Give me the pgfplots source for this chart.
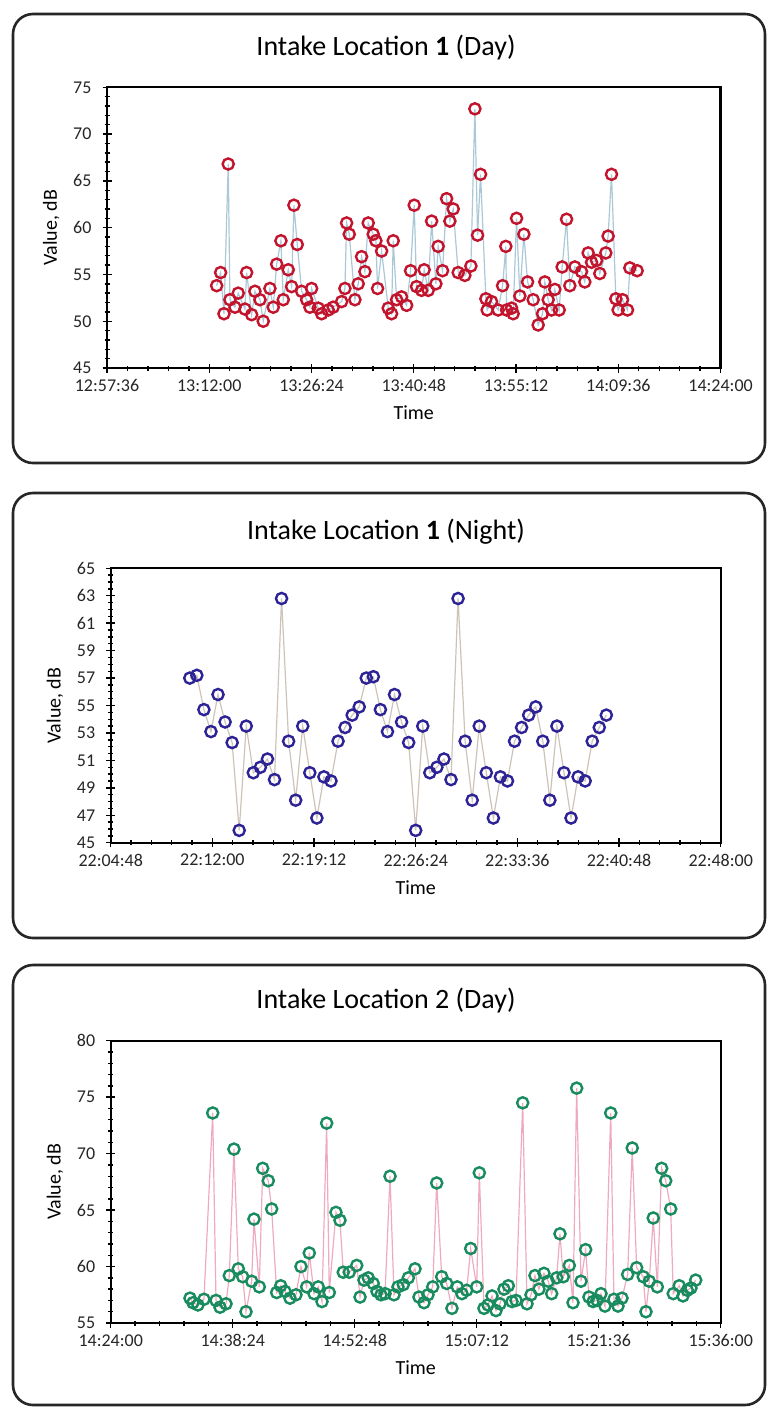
\documentclass[border=0pt]{standalone}
\usepackage{fontspec}
\setmainfont{Carlito}
\usepackage{pgfplots}
\pgfplotsset{compat=1.18}

\definecolor{redmk}{RGB}{195,20,45}
\definecolor{redln}{RGB}{170,200,215}
\definecolor{bluemk}{RGB}{45,35,150}
\definecolor{blueln}{RGB}{205,195,185}
\definecolor{greenmk}{RGB}{25,140,95}
\definecolor{greenln}{RGB}{238,170,190}

\pgfplotsset{
  panel/.style={
    scale only axis, anchor=south west,
    axis line style={line width=1.1pt},
    tick align=center, tick pos=left,
    major tick length=4.5pt, minor tick length=2.5pt,
    every tick/.style={black, line width=0.7pt},
    tick label style={font=\fontsize{9}{10}\selectfont, text=black!85},
    yticklabel style={xshift=-2pt},
    /pgf/number format/assume math mode=true,
    xlabel={Time}, ylabel={Value, dB},
    label style={font=\fontsize{10}{12}\selectfont},
    minor x tick num=4, minor y tick num=4,
    clip=false,
  },
  series/.style 2 args={
    draw=#2, line width=0.6pt, mark=o,
    mark size=2.8pt,
    mark options={draw=#1, line width=1.2pt, solid},
  },
}

\begin{document}
\begin{tikzpicture}[x=0.5pt,y=-0.5pt]
\useasboundingbox (0,0) rectangle (767,1409);

% panel frames
\draw[line width=1.3pt, black!85, rounded corners=10pt] (13,14) rectangle (765,463);
\draw[line width=1.3pt, black!85, rounded corners=10pt] (13,493) rectangle (765,938);
\draw[line width=1.3pt, black!85, rounded corners=10pt] (13,965) rectangle (765,1405);

\node[font=\fontsize{14}{16}\selectfont] at (386,48) {Intake Location \textbf{1} (Day)};
\node[font=\fontsize{14}{16}\selectfont] at (386,532) {Intake Location \textbf{1} (Night)};
\node[font=\fontsize{14}{16}\selectfont] at (386,1001) {Intake Location 2 (Day)};

\coordinate (p1) at (107,368);
\coordinate (p2) at (110.7,842.7);
\coordinate (p3) at (110.7,1323);

% ---- Intake Location 1 (Day)
\begin{axis}[panel, at={(p1)}, width=306.8pt, height=140.35pt,
    xmin=0, xmax=86.4, ymin=45, ymax=75,
    xtick={0,14.4,28.8,43.2,57.6,72,86.4},
    xticklabels={12:57:36,13:12:00,13:26:24,13:40:48,13:55:12,14:09:36,14:24:00},
    ytick={45,50,...,75}]
\addplot[series={redmk}{redln}] table {
15.44 53.8
16.00 55.2
16.47 50.8
17.07 66.8
17.31 52.3
18.02 51.5
18.48 53.0
19.42 51.3
19.66 55.2
20.37 50.7
20.83 53.2
21.54 52.3
22.00 50.0
22.94 53.5
23.41 51.5
23.89 56.1
24.49 58.6
24.82 52.3
25.52 55.5
26.00 53.7
26.32 62.4
26.79 58.2
27.41 53.2
28.11 52.3
28.57 51.5
28.81 53.5
29.74 51.4
30.22 50.8
31.15 51.2
31.85 51.5
33.04 52.1
33.50 53.5
33.74 60.5
34.11 59.3
34.91 52.3
35.37 54.0
35.85 56.9
36.32 55.3
36.78 60.5
37.49 59.3
37.86 58.6
38.10 53.5
38.67 57.5
39.60 51.4
40.07 50.8
40.30 58.6
40.78 52.3
41.48 52.6
42.19 51.7
42.75 55.4
43.26 62.4
43.59 53.7
44.30 53.3
44.66 55.5
45.23 53.3
45.71 60.7
46.31 54.0
46.63 58.0
47.25 55.4
47.82 63.1
48.28 60.7
48.75 62.0
49.45 55.2
50.39 54.9
51.24 55.9
51.80 72.7
52.18 59.2
52.60 65.7
53.35 52.4
53.53 51.2
54.15 52.1
55.08 51.2
55.70 53.8
56.16 58.0
56.26 51.2
56.97 51.4
57.19 50.8
57.67 61.0
58.13 52.7
58.70 59.3
59.22 54.2
60.01 52.3
60.71 49.6
61.33 50.8
61.65 54.2
62.12 52.3
62.60 51.2
63.06 53.4
63.67 51.2
64.09 55.8
64.71 60.9
65.17 53.8
65.88 55.8
66.82 55.3
67.28 54.2
67.75 57.3
68.23 56.3
68.93 56.5
69.39 55.1
70.24 57.3
70.56 59.1
71.04 65.7
71.65 52.4
71.97 51.2
72.59 52.3
73.29 51.2
73.62 55.7
74.65 55.4
};
\end{axis}

% ---- Intake Location 1 (Night)
\begin{axis}[panel, at={(p2)}, width=305pt, height=137.2pt,
    xmin=0, xmax=43.2, ymin=45, ymax=65,
    xtick={0,7.2,14.4,21.6,28.8,36,43.2},
    xticklabels={22:04:48,22:12:00,22:19:12,22:26:24,22:33:36,22:40:48,22:48:00},
    ytick={45,47,...,65}, minor y tick num=3]
\addplot[series={bluemk}{blueln}] table {
5.6 57.0
6.1 57.2
6.6 54.7
7.1 53.1
7.6 55.8
8.1 53.8
8.6 52.3
9.1 45.9
9.6 53.5
10.1 50.1
10.6 50.5
11.1 51.1
11.6 49.6
12.1 62.8
12.6 52.4
13.1 48.1
13.6 53.5
14.1 50.1
14.6 46.8
15.1 49.8
15.6 49.5
16.1 52.4
16.6 53.4
17.1 54.3
17.6 54.9
18.1 57.0
18.6 57.1
19.1 54.7
19.6 53.1
20.1 55.8
20.6 53.8
21.1 52.3
21.6 45.9
22.1 53.5
22.6 50.1
23.1 50.5
23.6 51.1
24.1 49.6
24.6 62.8
25.1 52.4
25.6 48.1
26.1 53.5
26.6 50.1
27.1 46.8
27.6 49.8
28.1 49.5
28.6 52.4
29.1 53.4
29.6 54.3
30.1 54.9
30.6 52.4
31.1 48.1
31.6 53.5
32.1 50.1
32.6 46.8
33.1 49.8
33.6 49.5
34.1 52.4
34.6 53.4
35.1 54.3
};
\end{axis}

% ---- Intake Location 2 (Day)
\begin{axis}[panel, at={(p3)}, width=305pt, height=141.15pt,
    xmin=0, xmax=72, ymin=55, ymax=80,
    xtick={0,14.4,28.8,43.2,57.6,72},
    xticklabels={14:24:00,14:38:24,14:52:48,15:07:12,15:21:36,15:36:00},
    ytick={55,60,...,80}]
\addplot[series={greenmk}{greenln}] table {
9.36 57.2
9.71 56.8
10.30 56.6
11.01 57.1
12.04 73.6
12.43 57.0
12.90 56.4
13.61 56.7
14.00 59.2
14.55 70.4
15.06 59.8
15.58 59.1
15.97 56.0
16.64 58.7
16.91 64.2
17.54 58.2
17.94 68.7
18.60 67.6
19.00 65.1
19.59 57.7
20.07 58.3
20.57 57.8
21.16 57.2
21.87 57.5
22.46 60.0
23.13 58.2
23.44 61.2
24.00 57.6
24.50 58.2
24.94 56.9
25.49 72.7
25.80 57.7
26.59 64.8
27.06 64.1
27.45 59.5
28.16 59.5
29.04 60.1
29.43 57.3
29.90 58.8
30.40 59.0
30.99 58.5
31.43 57.8
31.90 57.5
32.38 57.6
32.97 68.0
33.44 57.5
33.91 58.2
34.54 58.4
35.13 59.0
35.92 59.8
36.39 57.3
36.98 56.8
37.45 57.5
38.01 58.2
38.48 67.4
39.07 59.1
39.66 58.5
40.28 56.3
40.91 58.2
41.46 57.6
42.02 57.9
42.49 61.6
43.20 58.2
43.51 68.3
44.06 56.3
44.53 56.6
45.01 57.4
45.48 56.1
45.95 56.7
46.42 58.0
46.93 58.3
47.37 56.9
47.84 57.0
48.63 74.5
49.14 56.7
49.61 57.5
50.08 59.2
50.55 58.0
51.14 59.4
51.65 58.7
52.05 57.6
52.64 59.0
53.03 62.9
53.42 59.1
54.13 60.1
54.57 56.8
55.00 75.8
55.51 58.7
56.06 61.5
56.45 57.3
56.93 56.9
57.40 57.0
57.87 57.6
58.34 56.5
59.02 73.6
59.40 57.1
59.88 56.5
60.35 57.2
61.02 59.3
61.56 70.5
62.08 59.9
62.86 59.1
63.18 56.0
63.57 58.7
64.04 64.3
64.52 58.2
65.03 68.7
65.51 67.6
66.10 65.1
66.40 57.6
67.11 58.3
67.55 57.4
68.06 57.9
68.49 58.1
69.05 58.8
};
\end{axis}
\end{tikzpicture}
\end{document}
